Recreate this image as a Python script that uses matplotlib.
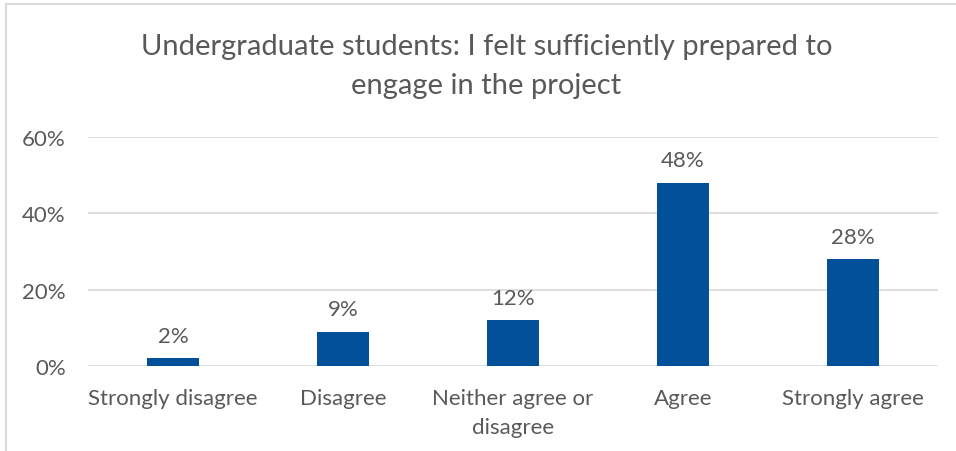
import matplotlib
matplotlib.use("Agg")
import matplotlib.pyplot as plt
from matplotlib.patches import Rectangle
from matplotlib.ticker import PercentFormatter

categories = ["Strongly disagree", "Disagree", "Neither agree or\ndisagree",
              "Agree", "Strongly agree"]
shares = [2, 9, 12, 48, 28]
yticks = [0, 20, 40, 60]

TEXT = "#595959"
GRID = "#d9d9d9"
BAR = "#02509a"

plt.rcParams["font.family"] = ["Lato", "DejaVu Sans"]

W, H = 956, 452
fig = plt.figure(figsize=(W / 100, H / 100), dpi=100)

# chart frame (only top and left edges fall inside the canvas)
fig.patches.append(Rectangle((6 / W, -0.1), 1.2, 1 - 5 / H + 0.1,
                             transform=fig.transFigure, fill=False,
                             edgecolor=GRID, linewidth=1.5))

fig.text(0.509, 1 - 47 / H, "Undergraduate students: I felt sufficiently prepared to",
         ha="center", va="center", fontsize=21, color=TEXT)
fig.text(0.509, 1 - 86 / H, "engage in the project",
         ha="center", va="center", fontsize=21, color=TEXT)

ax = fig.add_axes([88 / W, 1 - 367 / H, 850 / W, 229 / H])
x = range(len(categories))
bars = ax.bar(x, shares, width=0.31, color=BAR, zorder=3)
for rect, v in zip(bars, shares):
    ax.annotate(f"{v}%", (rect.get_x() + rect.get_width() / 2, v),
                xytext=(0, 9), textcoords="offset points",
                ha="center", va="bottom", fontsize=16, color=TEXT)

ax.set_xlim(-0.5, len(categories) - 0.5)
ax.set_ylim(0, 60)
ax.set_yticks(yticks)
ax.yaxis.set_major_formatter(PercentFormatter(decimals=0))
ax.set_xticks(list(x))
ax.set_xticklabels(categories, linespacing=1.55, va="top")
ax.tick_params(axis="both", length=0, labelsize=16, labelcolor=TEXT)
ax.tick_params(axis="y", pad=16)
ax.tick_params(axis="x", pad=16)
ax.grid(axis="y", color=GRID, linewidth=1.2, zorder=0)
for s in ax.spines.values():
    s.set_visible(False)

fig.savefig("out.png", dpi=100)
